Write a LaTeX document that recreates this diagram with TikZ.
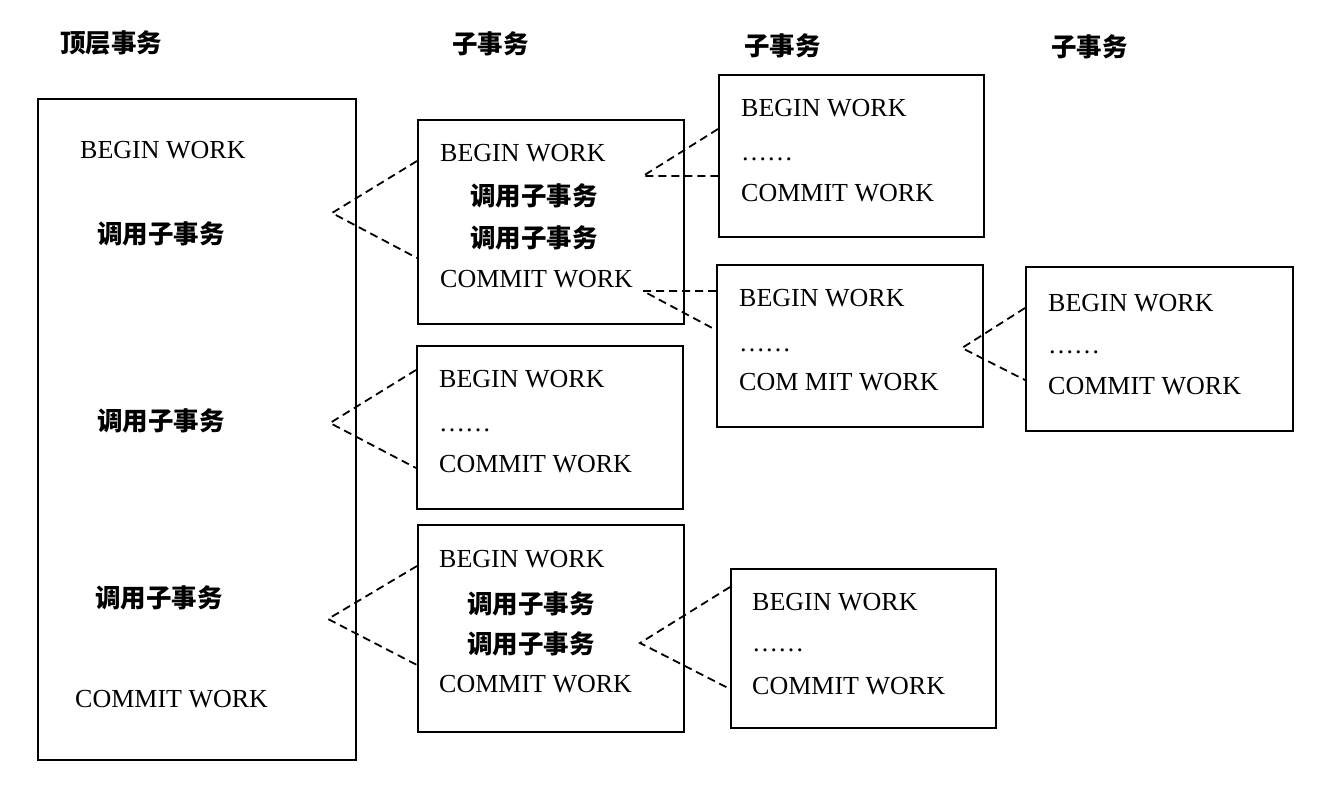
\documentclass[tikz,border=0pt]{standalone}
\usepackage{fontspec}
\setmainfont{Liberation Serif}
\newfontfamily\cjk{Noto Sans CJK SC}
\tikzset{
  box/.style={draw=black, line width=2.2pt, inner sep=0pt, anchor=north west},
  en/.style={anchor=base west, inner sep=0pt, font=\fontsize{26}{30}\selectfont},
  zh/.style={anchor=base west, inner sep=0pt, font=\fontsize{25.5}{30}\selectfont\cjk\bfseries},
  dots/.style={anchor=base west, inner sep=0pt, font=\fontsize{26}{30}\selectfont},
  link/.style={draw=black, line width=1.8pt, dash pattern=on 8pt off 5pt}
}
\begin{document}
\begin{tikzpicture}[x=1pt,y=-1pt]
\useasboundingbox (0,0) rectangle (1344,798);
% headers
\node[zh] (h1) at (60,52) {顶层事务};
\node[zh] (h2) at (452,53) {子事务};
\node[zh] (h3) at (744,55) {子事务};
\node[zh] (h4) at (1051,56) {子事务};
% boxes
\node[box, minimum width=318, minimum height=661] (T) at (37,98) {};
\node[box, minimum width=266, minimum height=204] (A) at (417,119) {};
\node[box, minimum width=265, minimum height=162] (B) at (718,74) {};
\node[box, minimum width=266, minimum height=162] (C) at (716,264) {};
\node[box, minimum width=267, minimum height=164] (D) at (1025,266) {};
\node[box, minimum width=266, minimum height=163] (E) at (416,345) {};
\node[box, minimum width=266, minimum height=207] (F) at (417,524) {};
\node[box, minimum width=265, minimum height=159] (G) at (730,568) {};
% top box text
\node[en] (t1) at (80,158) {BEGIN WORK};
\node[zh] (t2) at (97,243) {调用子事务};
\node[zh] (t3) at (97,430) {调用子事务};
\node[zh] (t4) at (95,607) {调用子事务};
\node[en] (t5) at (75,707) {COMMIT WORK};
% A
\node[en] (a1) at (440,161) {BEGIN WORK};
\node[zh] (a2) at (470,205) {调用子事务};
\node[zh] (a3) at (470,247) {调用子事务};
\node[en] (a4) at (440,287) {COMMIT WORK};
% B
\node[en] (b1) at (741,116) {BEGIN WORK};
\node[dots] (b2) at (741,160) {……};
\node[en] (b3) at (741,201) {COMMIT WORK};
% C
\node[en] (c1) at (739,306) {BEGIN WORK};
\node[dots] (c2) at (739,351) {……};
\node[en] (c3) at (739,390) {COM MIT WORK};
% D
\node[en] (d1) at (1048,311) {BEGIN WORK};
\node[dots] (d2) at (1048,353) {……};
\node[en] (d3) at (1048,394) {COMMIT WORK};
% E
\node[en] (e1) at (439,387) {BEGIN WORK};
\node[dots] (e2) at (439,431) {……};
\node[en] (e3) at (439,472) {COMMIT WORK};
% F
\node[en] (f1) at (439,567) {BEGIN WORK};
\node[zh] (f2) at (467,613) {调用子事务};
\node[zh] (f3) at (467,653) {调用子事务};
\node[en] (f4) at (439,692) {COMMIT WORK};
% G
\node[en] (g1) at (752,610) {BEGIN WORK};
\node[dots] (g2) at (752,651) {……};
\node[en] (g3) at (752,694) {COMMIT WORK};
% apex coordinates
\coordinate (p1) at (332,213);
\coordinate (p2) at (330,423);
\coordinate (p3) at (328,619);
\coordinate (p4) at (643,176);
\coordinate (p5) at (643,291);
\coordinate (p6) at (962,348);
\coordinate (p7) at (640,643);
% connectors
\draw[link] ([yshift=-42pt]A.north west) -- (p1) -- ([yshift=-139pt]A.north west);
\draw[link] ([yshift=-25pt]E.north west) -- (p2) -- ([yshift=-123pt]E.north west);
\draw[link] ([yshift=-42pt]F.north west) -- (p3) -- ([yshift=-141pt]F.north west);
\draw[link] ([yshift=-55pt]B.north west) -- (p4) -- ([yshift=-102pt]B.north west);
\draw[link] ([yshift=-27pt]C.north west) -- (p5) -- ([yshift=-66pt]C.north west);
\draw[link] ([yshift=-42pt]D.north west) -- (p6) -- ([yshift=-114pt]D.north west);
\draw[link] ([yshift=-19pt]G.north west) -- (p7) -- ([yshift=-121pt]G.north west);
\end{tikzpicture}
\end{document}
